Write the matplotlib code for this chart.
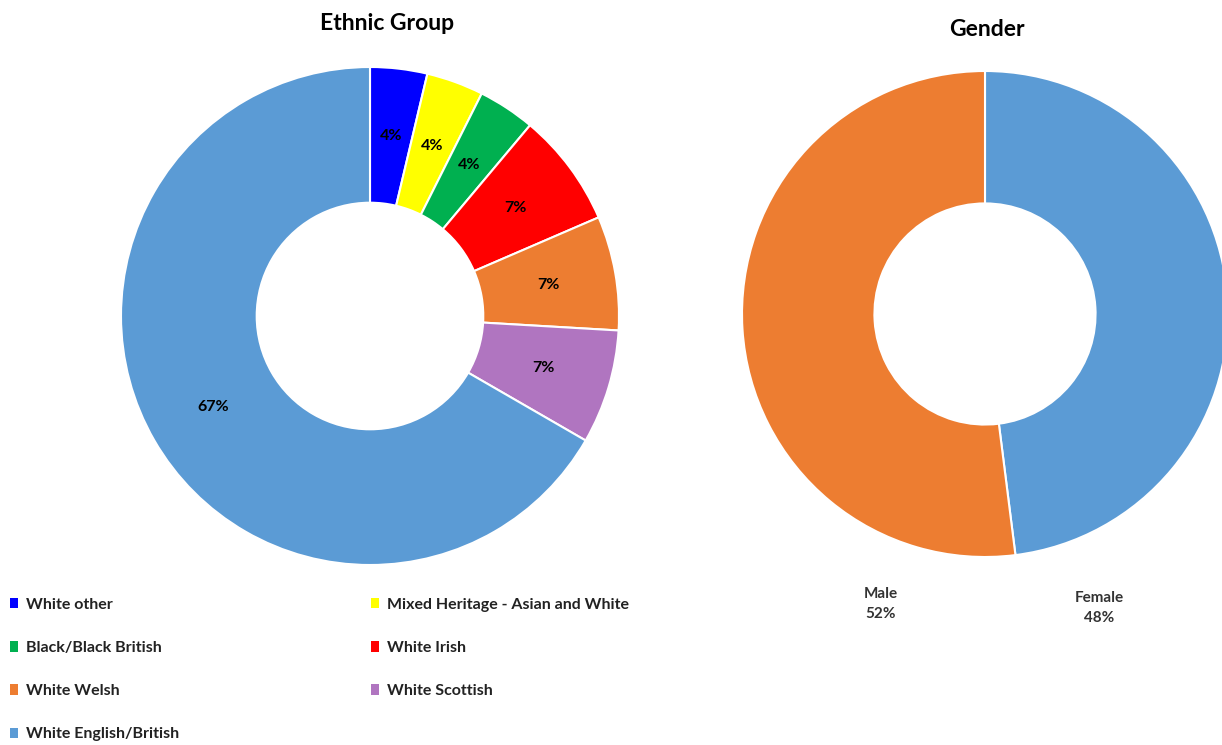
import matplotlib.pyplot as plt
from matplotlib.patches import Patch

plt.rcParams['font.family'] = ['Lato', 'DejaVu Sans']

# ethnic group (counts of respondents, shown as percent)
eth_labels = ['White other', 'Mixed Heritage - Asian and White', 'Black/Black British',
              'White Irish', 'White Welsh', 'White Scottish', 'White English/British']
eth_counts = [1, 1, 1, 2, 2, 2, 18]
eth_colors = ['#0000FF', '#FFFF00', '#00B050', '#FF0000', '#ED7D31', '#B075C0', '#5B9BD5']

# gender
gen_labels = ['Female', 'Male']
gen_pct = [48, 52]
gen_colors = ['#5B9BD5', '#ED7D31']

W, H = 1222, 745
fig = plt.figure(figsize=(W / 100, H / 100), dpi=100)

ring = dict(width=0.545, edgecolor='white', linewidth=1.5)

# left donut
ax1 = fig.add_axes([121 / W, 1 - 565 / H, 498 / W, 498 / H])
wedges, _, autotexts = ax1.pie(eth_counts, colors=eth_colors, startangle=90, counterclock=False,
                               radius=1, wedgeprops=ring, autopct='%.0f%%', pctdistance=0.727,
                               textprops=dict(fontsize=11.5, fontweight='bold', color='black'))
ax1.set_xlim(-1, 1)
ax1.set_ylim(-1, 1)
ax1.set_aspect('equal')
ax1.axis('off')
fig.text(387 / W, 1 - 23 / H, 'Ethnic Group', ha='center', va='center',
         fontsize=16.5, fontweight='bold')

# right donut
ax2 = fig.add_axes([742 / W, 1 - 557 / H, 486 / W, 486 / H])
ax2.pie(gen_pct, colors=gen_colors, startangle=90, counterclock=False,
        radius=1, wedgeprops=dict(width=0.545, edgecolor='white', linewidth=1.5))
ax2.set_xlim(-1, 1)
ax2.set_ylim(-1, 1)
ax2.set_aspect('equal')
ax2.axis('off')
fig.text(987 / W, 1 - 30 / H, 'Gender', ha='center', va='center',
         fontsize=16.5, fontweight='bold')

# outside labels for gender
lab_pos = {'Female': (0.47, -1.21), 'Male': (-0.43, -1.195)}
for name, p in zip(gen_labels, gen_pct):
    x, y = lab_pos[name]
    ax2.text(x, y, f'{name}\n{p}%', ha='center', va='center', fontsize=11,
             fontweight='bold', color='#333333', linespacing=1.55, clip_on=False)

# legend laid out row by row in two columns
handles = [Patch(facecolor=c, edgecolor='none') for c in eth_colors]
order = [0, 2, 4, 6, 1, 3, 5]
leg = fig.legend([handles[i] for i in order], [eth_labels[i] for i in order],
                 ncol=2, loc='upper left', bbox_to_anchor=(10 / W, 1 - 598 / H),
                 frameon=False, borderpad=0, borderaxespad=0,
                 handlelength=0.5, handleheight=0.6, handletextpad=0.5,
                 labelspacing=1.82, columnspacing=12.0,
                 prop=dict(size=11.5, weight='bold'))
for t in leg.get_texts():
    t.set_color('#222222')

fig.savefig('out.png', dpi=100, facecolor='white')
